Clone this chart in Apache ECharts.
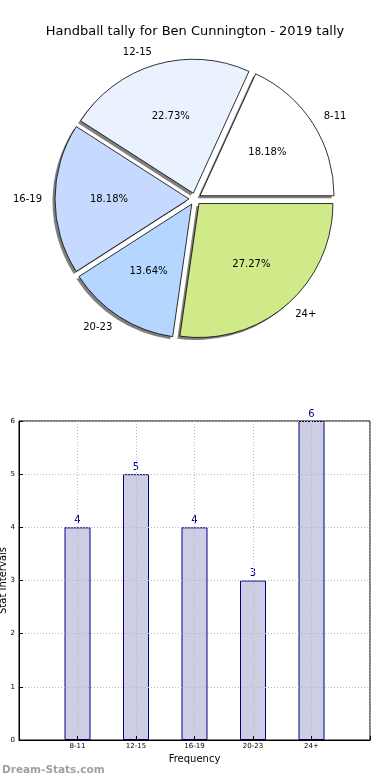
<!DOCTYPE html>
<html><head><meta charset="utf-8">
<script src="https://cdn.jsdelivr.net/npm/echarts@6/dist/echarts.min.js"></script>
<style>html,body{margin:0;padding:0;background:#fff}#c{width:390px;height:780px}</style>
</head><body><div id="c"></div>
<script>
const titleText = 'Handball tally for Ben Cunnington - 2019 tally';
const categories = ['8-11', '12-15', '16-19', '20-23', '24+'];
const counts = [4, 5, 4, 3, 6];
const sliceColors = ['#ffffff', '#eaf2ff', '#c6d9ff', '#b4d6ff', '#d0ea8a'];
const yTicks = [0, 1, 2, 3, 4, 5, 6];

const FONT = 'DejaVu Sans';
const R = 134;
const CENTER = [195, 199];
const OFFSET = 6;
const SHADOW_SHIFT = [-2.5, 2.5];

function pieItems(styleFn) {
  return categories.map((c, i) => {
    const st = styleFn(i);
    return { name: c, value: counts[i], selected: true, itemStyle: st, select: { itemStyle: st } };
  });
}
const pieBase = {
  type: 'pie', startAngle: 0, clockwise: false,
  selectedMode: 'multiple', selectedOffset: OFFSET, avoidLabelOverlap: false,
  silent: true, emphasis: { disabled: true }
};

const chart = echarts.init(document.getElementById('c'), null, { renderer: 'canvas' });
chart.setOption({
  animation: false,
  textStyle: { fontFamily: FONT },
  title: [
    { text: titleText, left: 'center', top: 20,
      textStyle: { fontFamily: FONT, fontSize: 13, fontWeight: 'normal', color: '#000' } },
    { text: 'Dream-Stats.com', left: -3, top: 760,
      textStyle: { fontFamily: FONT, fontSize: 10.5, fontWeight: 'bold', color: '#a0a0a0' } }
  ],
  grid: { left: 19, right: 20, top: 421, height: 319, containLabel: false, outerBoundsMode: 'none',
    show: true, borderColor: '#000', borderWidth: 1, backgroundColor: 'transparent', z: 3 },
  xAxis: {
    type: 'value', min: -1, max: 5, interval: 1, z: 3,
    name: 'Frequency', nameLocation: 'middle', nameGap: 14, nameMoveOverlap: false,
    nameTextStyle: { fontFamily: FONT, fontSize: 10, color: '#000' },
    axisLine: { show: true, onZero: false, lineStyle: { color: '#000', width: 1 } },
    axisTick: { show: true, inside: true, length: 4, lineStyle: { color: '#000' } },
    axisLabel: { fontFamily: FONT, fontSize: 7, color: '#000', margin: 3,
      formatter: v => (categories[v] !== undefined ? categories[v] : '') },
    splitLine: { show: true, lineStyle: { color: '#b8b8b8', type: [1, 2], width: 1 } }
  },
  yAxis: {
    type: 'value', min: yTicks[0], max: yTicks[yTicks.length - 1], interval: 1, z: 3,
    name: 'Stat Intervals', nameLocation: 'middle', nameGap: 11, nameRotate: 90, nameMoveOverlap: false,
    nameTextStyle: { fontFamily: FONT, fontSize: 10, color: '#000' },
    axisLine: { show: true, onZero: false, lineStyle: { color: '#000', width: 1 } },
    axisTick: { show: true, inside: true, length: 4, lineStyle: { color: '#000' } },
    axisLabel: { fontFamily: FONT, fontSize: 7, color: '#000', margin: 4 },
    splitLine: { show: true, lineStyle: { color: '#b8b8b8', type: [1, 2], width: 1 } }
  },
  series: [
    Object.assign({}, pieBase, {
      center: [CENTER[0] + SHADOW_SHIFT[0], CENTER[1] + SHADOW_SHIFT[1]], radius: [0, R], z: 1,
      label: { show: false }, labelLine: { show: false },
      data: pieItems(() => ({ color: '#808080', borderWidth: 0 }))
    }),
    Object.assign({}, pieBase, {
      center: CENTER, radius: [0, R], z: 2,
      label: { show: true, position: 'outside', formatter: '{b}', fontFamily: FONT, fontSize: 10, color: '#000', distanceToLabelLine: 0 },
      labelLine: { show: false, length: 13, length2: 0 },
      data: pieItems(i => ({ color: sliceColors[i], borderColor: '#000', borderWidth: 0.8 }))
    }),
    Object.assign({}, pieBase, {
      center: CENTER, radius: [0, R * 1.15], z: 3,
      label: { show: true, position: 'inside', formatter: '{d}%', fontFamily: FONT, fontSize: 10, color: '#000' },
      labelLine: { show: false },
      data: pieItems(() => ({ color: 'rgba(0,0,0,0)', borderWidth: 0 }))
    }),
    {
      type: 'bar', z: 1, barWidth: 26,
      itemStyle: { color: '#cdcde4', borderColor: '#00008b', borderWidth: 1 },
      label: { show: true, position: 'top', distance: 2, color: '#00008b', fontFamily: FONT, fontSize: 10 },
      data: counts.map((v, i) => [i, v])
    }
  ]
});
</script></body></html>
